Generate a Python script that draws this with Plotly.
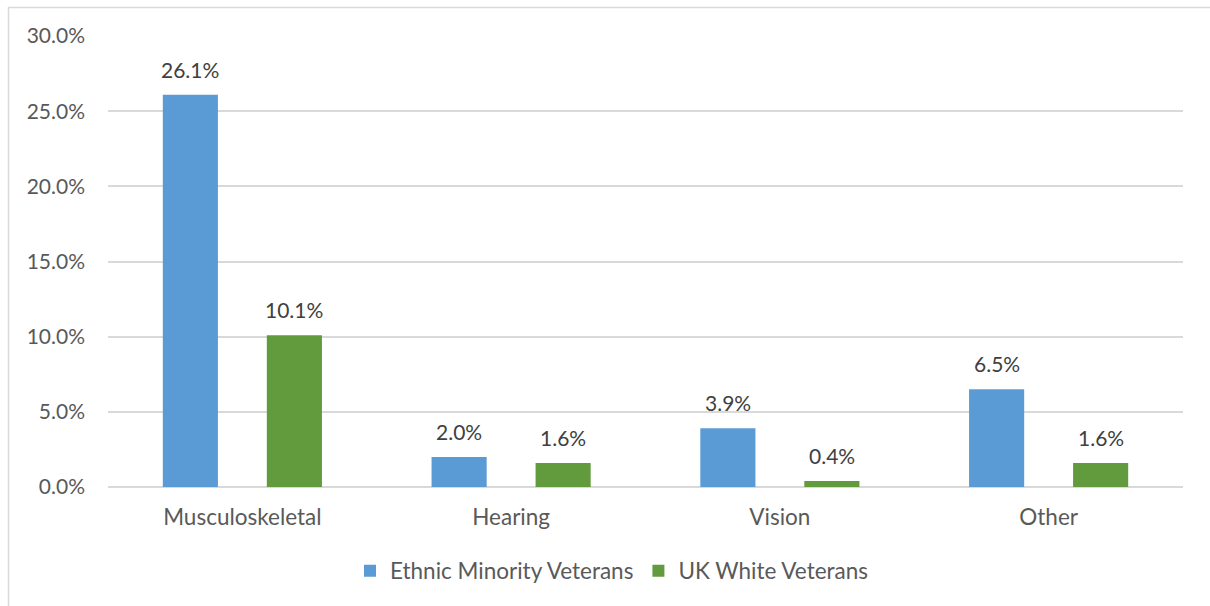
import plotly.graph_objects as go

categories = ["Musculoskeletal", "Hearing", "Vision", "Other"]
ethnic_minority = [26.1, 2.0, 3.9, 6.5]
uk_white = [10.1, 1.6, 0.4, 1.6]
y_ticks = [0, 5, 10, 15, 20, 25, 30]
y_tick_labels = ["0.0%", "5.0%", "10.0%", "15.0%", "20.0%", "25.0%", "30.0%"]

FONT = "Lato, 'Open Sans', sans-serif"
TXT = "#595959"
FS = 21
FS_X = 22.5

W, H = 1210, 606
ML, MR, MT, MB = 108, 27, 36, 119
BARGAP = 0.226
plot_w = W - ML - MR
plot_h = H - MT - MB
cat_px = plot_w / len(categories)
slot_px = cat_px * (1 - BARGAP) / 2

fig = go.Figure()
fig.add_trace(go.Bar(
    name="Ethnic Minority Veterans", x=categories, y=ethnic_minority,
    marker=dict(color="#5B9BD5", line=dict(width=0)),
))
fig.add_trace(go.Bar(
    name="UK White Veterans", x=categories, y=uk_white,
    marker=dict(color="#629B3D", line=dict(width=0)),
))

annotations = []
for series, sign in ((ethnic_minority, -1), (uk_white, 1)):
    for c, v in zip(categories, series):
        annotations.append(dict(
            x=c, y=v, xref="x", yref="y", text=f"{v:.1f}%", showarrow=False,
            xanchor="center", yanchor="bottom", xshift=sign * slot_px / 2, yshift=11,
            font=dict(size=FS, color="#404040", family=FONT),
        ))

fig.update_layout(
    width=W, height=H,
    margin=dict(l=ML, r=MR, t=MT, b=MB),
    paper_bgcolor="white", plot_bgcolor="white",
    barmode="group", bargap=BARGAP, bargroupgap=0.47,
    font=dict(family=FONT, size=FS, color=TXT),
    showlegend=True,
    legend=dict(orientation="h", x=(612 - ML) / plot_w, xanchor="center",
                y=-(571 - (H - MB)) / plot_h, yanchor="middle",
                font=dict(size=FS_X, color=TXT), traceorder="normal"),
    xaxis=dict(showgrid=False, showline=False, ticks="", ticklabelstandoff=14,
               tickfont=dict(size=FS_X, color=TXT)),
    yaxis=dict(range=[0, 30], tickvals=y_ticks, ticktext=y_tick_labels,
               showgrid=True, gridcolor="#D9D9D9", gridwidth=1.5,
               zeroline=True, zerolinecolor="#D9D9D9", zerolinewidth=1.5,
               showline=False, ticks="", ticklabelstandoff=22,
               tickfont=dict(size=FS, color=TXT)),
    annotations=annotations,
    shapes=[dict(type="rect", xref="paper", yref="paper",
                 x0=(8.5 - ML) / plot_w, x1=1.3,
                 y0=-0.6, y1=1 + (MT - 7.5) / plot_h,
                 line=dict(color="#D9D9D9", width=1.5), fillcolor="rgba(0,0,0,0)",
                 layer="below")],
)

fig.write_html("out.html", config={"displayModeBar": False},
               post_script="document.body.style.margin='0';document.body.style.overflow='hidden';")
